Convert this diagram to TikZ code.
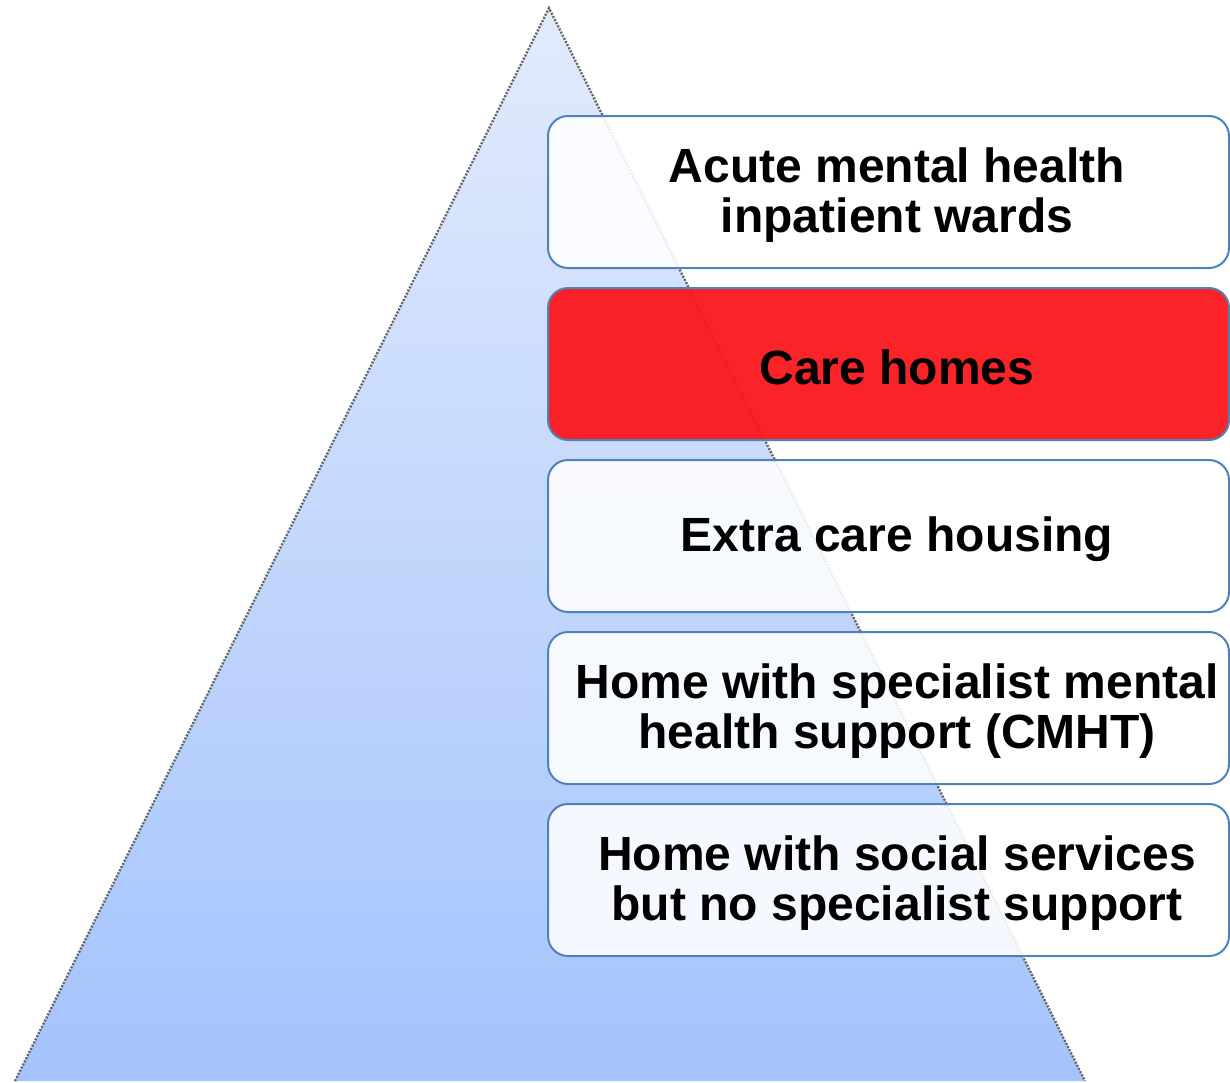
\documentclass[tikz,border=0pt]{standalone}
\usepackage{fontspec}
\setmainfont{Liberation Sans}
\usepackage{tikz}
\usetikzlibrary{positioning}

\definecolor{pyrtop}{RGB}{226,235,253}
\definecolor{pyrbot}{RGB}{164,195,252}
\definecolor{boxline}{RGB}{79,129,189}
\definecolor{carered}{RGB}{250,24,28}

\tikzset{
  levelbox/.style={rectangle,rounded corners=20pt,draw=boxline,line width=2pt,
    fill=white,fill opacity=0.88,minimum width=681pt,minimum height=152pt,inner sep=0pt},
  levelred/.style={levelbox,fill=carered,fill opacity=0.95},
  leveltext/.style={align=center,text=black,inner sep=0pt,
    font=\fontsize{48}{50}\selectfont\bfseries}
}

\begin{document}
\begin{tikzpicture}
  [x=1pt,y=-1pt]
  \useasboundingbox (0,0) rectangle (1230,1082);

  % pyramid
  \coordinate (apex) at (549,8);
  \coordinate (bl) at (15,1081);
  \coordinate (br) at (1085,1081);
  \shade[top color=pyrtop,bottom color=pyrbot] (apex) -- (br) -- (bl) -- cycle;
  \draw[black!60,dash pattern=on 2pt off 1.5pt,line width=2.4pt] (bl) -- (apex) -- (br);

  % levels
  \node[style=levelbox] (l1) at (888.5,192) {};
  \node[style=levelred] (l2) at (888.5,364) {};
  \node[style=levelbox] (l3) at (888.5,536) {};
  \node[style=levelbox] (l4) at (888.5,708) {};
  \node[style=levelbox] (l5) at (888.5,880) {};

  \foreach \lvl/\txt in {l1/{Acute mental health\\inpatient wards},
                         l2/{Care homes},
                         l3/{Extra care housing},
                         l4/{Home with specialist mental\\health support (CMHT)},
                         l5/{Home with social services\\but no specialist support}}
    \node[style=leveltext] (\lvl t) at ([xshift=8.5pt,yshift=-3pt]\lvl.center) {\txt};
\end{tikzpicture}
\end{document}
